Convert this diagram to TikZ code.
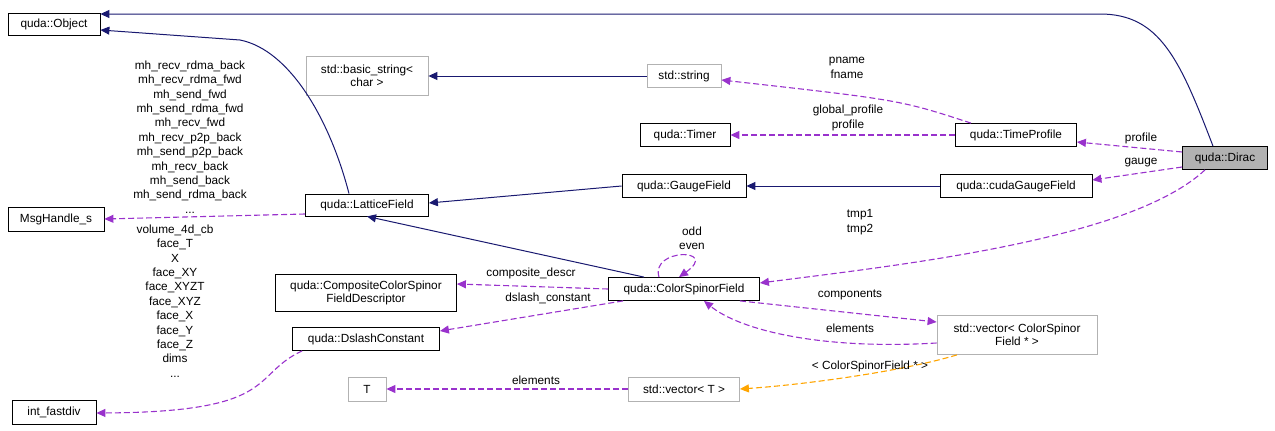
\documentclass[tikz,border=0pt]{standalone}
\usepackage{fontspec}
\setmainfont{Liberation Sans}
\usetikzlibrary{arrows.meta}
\definecolor{navy}{RGB}{25,25,112}
\definecolor{purp}{RGB}{153,50,204}
\definecolor{orng}{RGB}{255,165,0}
\begin{document}
\begin{tikzpicture}[x=1pt,y=-1pt,
  font=\fontsize{11.8}{13.5}\selectfont,
  box/.style={draw=black,fill=white,inner sep=0pt,align=center,line width=0.8pt},
  gbox/.style={draw=gray!60,fill=white,inner sep=0pt,align=center,line width=0.8pt},
  inh/.style={draw=navy,line width=1pt,-{Triangle[open,length=9pt,width=8pt,fill=navy]}},
  use/.style={draw=purp,line width=1.1pt,dashed,dash pattern=on 6pt off 3pt,-{Triangle[length=9pt,width=8pt,fill=purp]}},
  tmpl/.style={draw=orng,line width=1.1pt,dashed,dash pattern=on 6pt off 3pt,-{Triangle[length=9pt,width=8pt,fill=orng]}},
  lab/.style={align=center,inner sep=0pt,font=\fontsize{11.8}{14.4}\selectfont}]
\useasboundingbox (0,0) rectangle (1275,431);
\node[box,minimum width=92,minimum height=22] (obj) at (54,24) {quda::Object};
\node[gbox,minimum width=122,minimum height=39] (bstr) at (367,76) {std::basic\_string<\\char >};
\node[gbox,minimum width=74,minimum height=23] (str) at (684,76) {std::string};
\node[box,minimum width=90,minimum height=23] (timer) at (685,135) {quda::Timer};
\node[box,minimum width=121,minimum height=23] (tp) at (1016,135) {quda::TimeProfile};
\node[box,fill=gray!60,minimum width=85,minimum height=23] (dirac) at (1225,158) {quda::Dirac};
\node[box,minimum width=124,minimum height=23] (gf) at (684,186) {quda::GaugeField};
\node[box,minimum width=152,minimum height=23] (cgf) at (1016,186) {quda::cudaGaugeField};
\node[box,minimum width=96,minimum height=24] (msg) at (56,219) {MsgHandle\_s};
\node[box,minimum width=123,minimum height=22] (lf) at (367,205) {quda::LatticeField};
\node[box,minimum width=181,minimum height=37] (ccsf) at (366,293) {quda::CompositeColorSpinor\\FieldDescriptor};
\node[box,minimum width=151,minimum height=23] (csf) at (684,289) {quda::ColorSpinorField};
\node[gbox,minimum width=160,minimum height=39] (vcsf) at (1017,335) {std::vector< ColorSpinor\\Field * >};
\node[box,minimum width=147,minimum height=23] (dc) at (366,339) {quda::DslashConstant};
\node[gbox,minimum width=38,minimum height=24] (T) at (367,389) {T};
\node[gbox,minimum width=111,minimum height=24] (vT) at (684,389) {std::vector< T >};
\node[box,minimum width=84,minimum height=24] (ifd) at (54,412) {int\_fastdiv};

% inheritance
\draw[inh] (lf.north) ++(-18,0) coordinate (a1) (a1) .. controls (330,120) and (290,50) .. (240,40) -- (obj.east |- 0,30);
\draw[inh] (dirac.north) ++(-12,0) coordinate (a2) (a2) .. controls (1180,60) and (1160,14) .. (1100,14) -- (obj.east |- 0,14);
\draw[inh] (str) -- (bstr);
\draw[inh] (gf.west) -- (lf.east |- 0,203);
\draw[inh] (cgf) -- (gf);
\draw[inh] (csf.north) ++(-40,0) coordinate (a3) (a3) -- (lf.south);

% usage
\draw[use] (tp.north) ++(-45,0) coordinate (b1) (b1) .. controls (900,100) .. (str.east |- 0,80);
\node[lab] at (847,68) {pname\\fname};
\draw[use] (tp) -- (timer);
\node[lab] at (848,118) {global\_profile\\profile};
\draw[use] (dirac.west |- 0,152) -- (tp.east |- 0,142);
\node[lab] at (1141,138) {profile};
\draw[use] (dirac.west |- 0,167) -- (cgf.east |- 0,180);
\node[lab] at (1141,163) {gauge};
\draw[use] (dirac.south) ++(-20,0) coordinate (b2) (b2) .. controls (1130,240) and (900,265) .. (csf.east |- 0,283);
\node[lab] at (860,222) {tmp1\\tmp2};
\draw[use] (lf.west |- 0,214) -- (msg.east);
\node[lab] at (190,137) {mh\_recv\_rdma\_back\\mh\_recv\_rdma\_fwd\\mh\_send\_fwd\\mh\_send\_rdma\_fwd\\mh\_recv\_fwd\\mh\_recv\_p2p\_back\\mh\_send\_p2p\_back\\mh\_recv\_back\\mh\_send\_back\\mh\_send\_rdma\_back\\...};
\draw[use] (csf.north) ++(-25,0) coordinate (c1) (c1) .. controls (650,248) and (720,248) .. ([xshift=-5pt]csf.north);
\node[lab] at (692,238) {odd\\even};
\draw[use] (csf.west) -- (ccsf.east |- 0,284);
\node[lab] at (531,273) {composite\_descr};
\draw[use] (csf.south west) ++(15,0) coordinate (c2) (c2) -- (dc.east |- 0,331);
\node[lab] at (548,298) {dslash\_constant};
\draw[use] (csf.south east) ++(-20,0) coordinate (c3) (c3) -- (vcsf.west |- 0,322);
\node[lab] at (850,295) {components};
\draw[use] (vcsf.west |- 0,343) .. controls (820,350) and (740,330) .. ([xshift=20pt]csf.south);
\node[lab] at (850,328) {elements};
\draw[tmpl] (vcsf.south) ++(-60,0) coordinate (d1) (d1) .. controls (900,372) and (800,385) .. (vT.east);
\node[lab] at (870,366) {< ColorSpinorField * >};
\draw[use] (vT) -- (T);
\node[lab] at (536,380) {elements};
\draw[use] (dc.south west) ++(10,0) coordinate (e1) (e1) .. controls (250,375) and (280,412) .. (ifd.east |- 0,413);
\node[lab] at (175,301) {volume\_4d\_cb\\face\_T\\X\\face\_XY\\face\_XYZT\\face\_XYZ\\face\_X\\face\_Y\\face\_Z\\dims\\...};
\end{tikzpicture}
\end{document}
